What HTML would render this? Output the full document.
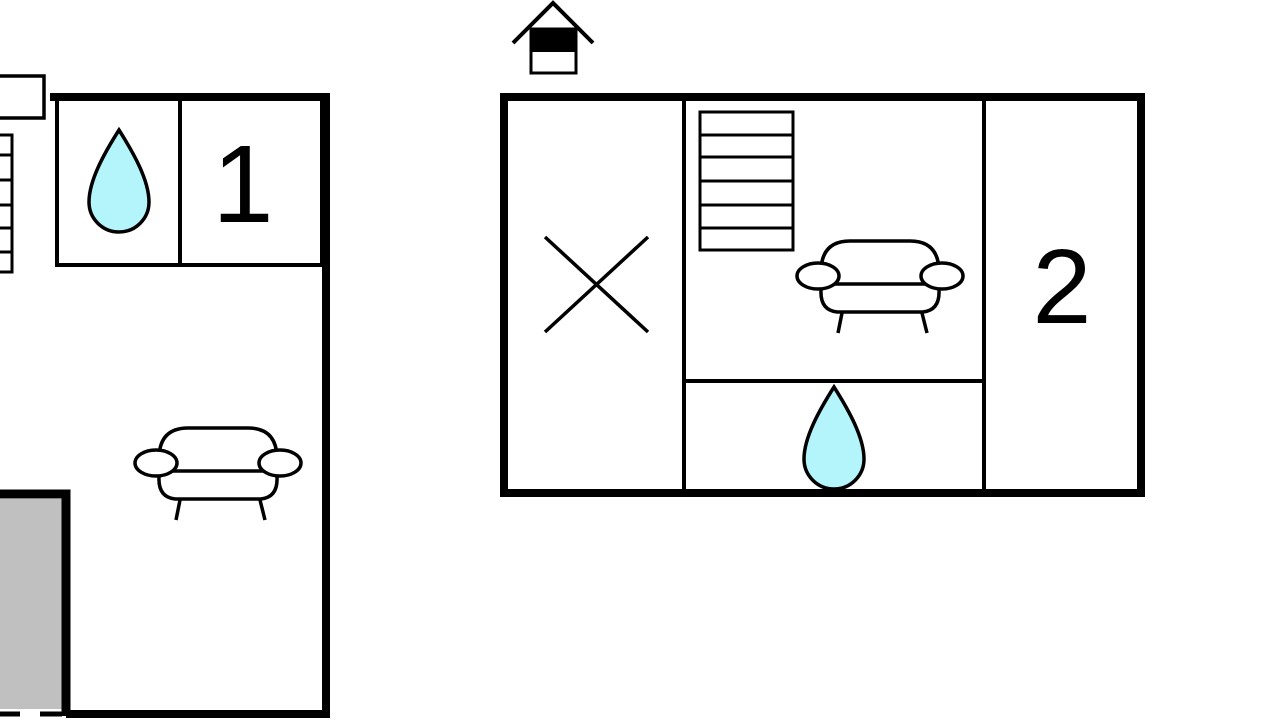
<!DOCTYPE html>
<html><head><meta charset="utf-8"><style>
html,body{margin:0;padding:0;background:#fff;width:1280px;height:720px;overflow:hidden}
svg{display:block}
text{font-family:"Liberation Sans",sans-serif}
</style></head><body>
<svg width="1280" height="720" viewBox="0 0 1280 720" xmlns="http://www.w3.org/2000/svg">
<defs>
<g id="sofa" fill="#fff" stroke="#000" stroke-width="3.5" stroke-linecap="butt">
 <path d="M-43,312 Q-60,310 -59,290 L-59,270 Q-58,241 -30,241 L30,241 Q58,241 59,270 L59,290 Q60,310 43,312 Z"/>
 <line x1="-45" y1="284" x2="45" y2="284"/>
 <ellipse cx="-62" cy="276" rx="21" ry="13"/>
 <ellipse cx="62" cy="276" rx="21" ry="13"/>
 <line x1="-38" y1="313" x2="-42" y2="333"/>
 <line x1="42" y1="313" x2="47" y2="333"/>
</g>
<path id="drop" d="M0,0 C14,22 30,50 30,72 A30,30 0 0 1 -30,72 C-30,50 -14,22 0,0 Z" fill="#b3f5fb" stroke="#000" stroke-width="3.5"/>
</defs>

<!-- left building -->
<rect x="-10" y="76" width="54" height="42" fill="#fff" stroke="#000" stroke-width="3.5"/>
<g stroke="#000" stroke-width="3" fill="none">
 <rect x="-5" y="135" width="17" height="137"/>
 <line x1="0" y1="155" x2="12" y2="155"/><line x1="0" y1="180" x2="12" y2="180"/>
 <line x1="0" y1="205" x2="12" y2="205"/><line x1="0" y1="228" x2="12" y2="228"/>
 <line x1="0" y1="252" x2="12" y2="252"/>
</g>
<rect x="57" y="97" width="265" height="168" fill="none" stroke="#000" stroke-width="4"/>
<line x1="180" y1="97" x2="180" y2="265" stroke="#000" stroke-width="4"/>
<path d="M50,97 L326,97 L326,714 L66,714" fill="none" stroke="#000" stroke-width="8"/>
<rect x="0" y="499" width="62" height="210" fill="#c0c0c0"/>
<path d="M0,494 L66,494 L66,716" fill="none" stroke="#000" stroke-width="9"/>
<line x1="0" y1="714" x2="20" y2="714" stroke="#000" stroke-width="5"/>
<line x1="40" y1="714" x2="62" y2="714" stroke="#000" stroke-width="5"/>
<use href="#drop" x="119" y="130"/>
<text x="243" y="222" font-size="110" text-anchor="middle">1</text>
<use href="#sofa" transform="translate(218,187)"/>

<!-- house icon -->
<rect x="531" y="29" width="45" height="44" fill="#fff" stroke="#000" stroke-width="3"/>
<rect x="531" y="29" width="45" height="23" fill="#000"/>
<path d="M513,43 L553,3 L593,43" fill="none" stroke="#000" stroke-width="4"/>

<!-- right building -->
<line x1="684" y1="97" x2="684" y2="493" stroke="#000" stroke-width="4"/>
<line x1="984" y1="97" x2="984" y2="493" stroke="#000" stroke-width="4"/>
<line x1="684" y1="381" x2="984" y2="381" stroke="#000" stroke-width="4"/>
<rect x="504" y="97" width="637" height="396" fill="none" stroke="#000" stroke-width="8"/>
<g stroke="#000" stroke-width="3" fill="none">
 <rect x="700" y="112" width="93" height="138"/>
 <line x1="700" y1="135" x2="793" y2="135"/><line x1="700" y1="157" x2="793" y2="157"/>
 <line x1="700" y1="181" x2="793" y2="181"/><line x1="700" y1="205" x2="793" y2="205"/>
 <line x1="700" y1="228" x2="793" y2="228"/>
</g>
<g stroke="#000" stroke-width="3.5">
 <line x1="545" y1="237" x2="648" y2="332"/><line x1="648" y1="237" x2="545" y2="332"/>
</g>
<use href="#sofa" transform="translate(880,0)"/>
<use href="#drop" x="834" y="387"/>
<text x="1062" y="323" font-size="106" text-anchor="middle">2</text>
</svg>
</body></html>
